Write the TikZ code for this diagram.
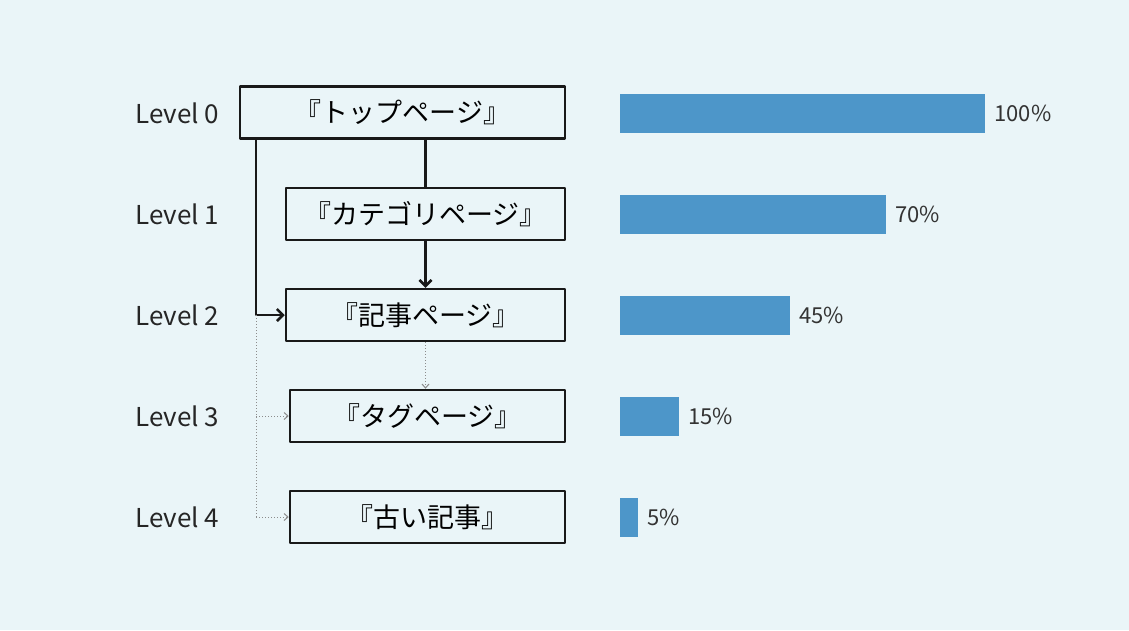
\documentclass[tikz,border=0pt]{standalone}
\usepackage{fontspec}
\setmainfont{Noto Sans CJK JP}
\usetikzlibrary{arrows,arrows.meta,positioning}
\definecolor{bgblue}{HTML}{EAF5F8}
\definecolor{barblue}{HTML}{4D96C9}
\definecolor{inkgray}{HTML}{333333}

\begin{document}
\begin{tikzpicture}[x=1pt,y=-1pt,line join=round,>={Straight Barb[length=6pt,width=12pt]}]
\tikzset{every node/.style={font=\fontsize{26}{30}\selectfont},
  page/.style={draw=black!90,line width=2.5pt,inner sep=0pt,minimum height=52pt,
    font=\fontsize{27}{30}\selectfont},
  lvl/.style={anchor=west,text=black!85},
  pct/.style={anchor=west,text=inkgray,font=\fontsize{22}{26}\selectfont},
  link/.style={line width=2.5pt,black!90},
  dots/.style={dotted,line width=1pt,black!45,
    >={Straight Barb[length=4pt,width=7pt]}}}
\fill[bgblue] (0,0) rectangle (1129,630);
\useasboundingbox (0,0) rectangle (1129,630);
% pages
\node[page,minimum width=325pt] (top) at (402.5,112.5) {『トップページ』};
\node[page,minimum width=279pt] (cat) at (425.5,214) {『カテゴリページ』};
\node[page,minimum width=279pt] (art) at (425.5,315) {『記事ページ』};
\node[page,minimum width=275pt] (tag) at (427.5,416) {『タグページ』};
\node[page,minimum width=275pt] (old) at (427.5,517) {『古い記事』};
% levels
\node[lvl] (l0) at (132,113) {Level 0};
\node[lvl] (l1) at (132,214) {Level 1};
\node[lvl] (l2) at (132,315) {Level 2};
\node[lvl] (l3) at (132,416) {Level 3};
\node[lvl] (l4) at (132,517) {Level 4};
% links
\coordinate (split) at (256,315);
\draw[link] (top.south -| cat) -- (cat.north);
\draw[link,->] (cat.south) -- (art.north);
\draw[link,->] (top.south -| split) -- (split) -- (art.west);
\draw[dots] (split) -- (split |- old.west);
\draw[dots,->] (split |- tag.west) -- (tag.west);
\draw[dots,->] (split |- old.west) -- (old.west);
\draw[dots,->] (art.south) -- (art.south |- tag.north);
% bars
\foreach \y/\e/\p in {113/985/100,214/886/70,315/790/45,416/679/15,517/638/5}{
  \fill[barblue] (620,\y-19.5) rectangle (\e,\y+19.5);
  \node[pct] (p\p) at (\e+6,\y) {\p\%};
}
\end{tikzpicture}
\end{document}
